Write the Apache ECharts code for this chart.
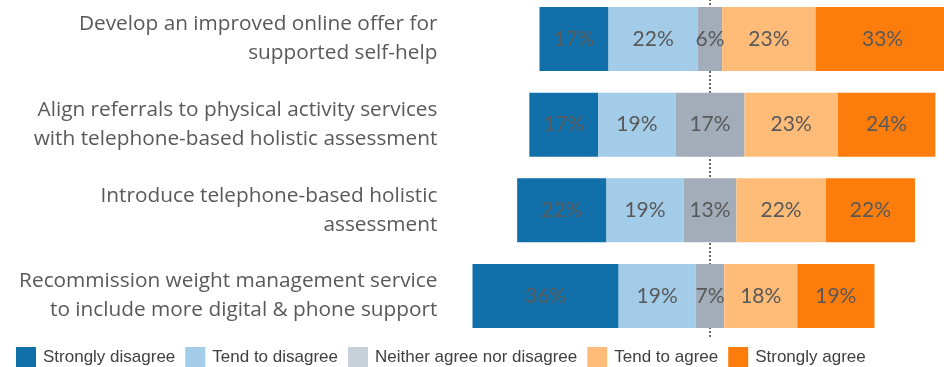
<!DOCTYPE html>
<html>
<head>
<meta charset="utf-8">
<script src="https://cdn.jsdelivr.net/npm/echarts@6/dist/echarts.min.js"></script>
<style>
  html, body { margin: 0; padding: 0; background: #ffffff; }
  #chart { width: 944px; height: 367px; }
</style>
</head>
<body>
<div id="chart"></div>
<script>
// Survey statements (top to bottom)
var categories = [
  'Develop an improved online offer for\nsupported self-help',
  'Align referrals to physical activity services\nwith telephone-based holistic assessment',
  'Introduce telephone-based holistic\nassessment',
  'Recommission weight management service\nto include more digital & phone support'
];

// Response shares, percent
var stronglyDisagree = [17, 17, 22, 36];
var tendToDisagree   = [22, 19, 19, 19];
var neitherAgree     = [6, 17, 13, 7];
var tendToAgree      = [23, 23, 22, 18];
var stronglyAgree    = [33, 24, 22, 19];

var seriesNames = ['Strongly disagree', 'Tend to disagree', 'Neither agree nor disagree', 'Tend to agree', 'Strongly agree'];
var barColors = ['#1170aa', '#a3cce9', '#a3acb9', '#ffbc79', '#fc7d0b'];
var legendColors = ['#1170aa', '#a3cce9', '#c8d0d9', '#ffbc79', '#fc7d0b'];

// Hidden lead-in so each bar is centred on the middle of its neutral segment
var leadIn = categories.map(function (_, i) {
  return -(stronglyDisagree[i] + tendToDisagree[i] + neitherAgree[i] / 2);
});

var valueSets = [stronglyDisagree, tendToDisagree, neitherAgree, tendToAgree, stronglyAgree];

var chart = echarts.init(document.getElementById('chart'), null, { renderer: 'canvas' });

var series = [{
  name: 'lead',
  type: 'bar',
  stack: 'total',
  stackStrategy: 'all',
  barWidth: 64,
  clip: false,
  z: 2,
  itemStyle: { color: 'rgba(0,0,0,0)' },
  label: { show: false },
  emphasis: { disabled: true },
  silent: true,
  data: leadIn
}, {
  // Dotted centre reference line, on its own full-height grid
  name: 'centre',
  type: 'line',
  xAxisIndex: 1,
  yAxisIndex: 1,
  data: [],
  z: 1,
  silent: true,
  markLine: {
    z: 1,
    silent: true,
    symbol: ['none', 'none'],
    label: { show: false },
    lineStyle: { type: [2, 2], color: '#6a6a6a', width: 2 },
    data: [{ xAxis: 0 }]
  }
}];

valueSets.forEach(function (vals, k) {
  series.push({
    name: seriesNames[k],
    type: 'bar',
    stack: 'total',
    stackStrategy: 'all',
    barWidth: 64,
    clip: false,
    z: 3,
    itemStyle: { color: barColors[k] },
    label: {
      show: true,
      position: 'inside',
      formatter: '{c}%',
      color: '#595959',
      fontFamily: 'Lato',
      fontSize: 21
    },
    data: vals
  });
});

chart.setOption({
  animation: false,
  backgroundColor: '#ffffff',
  grid: [
    { left: 470.46, width: 470.96, top: 39, height: 257, containLabel: false },
    { left: 470.46, width: 470.96, top: 0, height: 337, containLabel: false }
  ],
  xAxis: [
    { type: 'value', gridIndex: 0, min: -59, max: 57, show: false },
    { type: 'value', gridIndex: 1, min: -59, max: 57, show: false }
  ],
  yAxis: [{
    type: 'category',
    gridIndex: 0,
    inverse: true,
    boundaryGap: false,
    data: categories,
    axisLine: { show: false },
    axisTick: { show: false },
    splitLine: { show: false },
    axisLabel: {
      margin: 33,
      color: '#595959',
      fontFamily: 'Open Sans',
      fontSize: 20.8,
      lineHeight: 29,
      align: 'right'
    }
  }, {
    type: 'value',
    gridIndex: 1,
    min: 0,
    max: 1,
    show: false
  }],
  legend: {
    left: 16,
    top: 347,
    padding: 0,
    itemWidth: 20,
    itemHeight: 20,
    itemGap: 10,
    icon: 'rect',
    textStyle: {
      color: '#404040',
      fontFamily: 'Liberation Sans',
      fontSize: 17,
      padding: [0, 0, 0, 2]
    },
    data: seriesNames.map(function (n, k) {
      return { name: n, itemStyle: { color: legendColors[k] } };
    })
  },
  series: series
});
</script>
</body>
</html>
